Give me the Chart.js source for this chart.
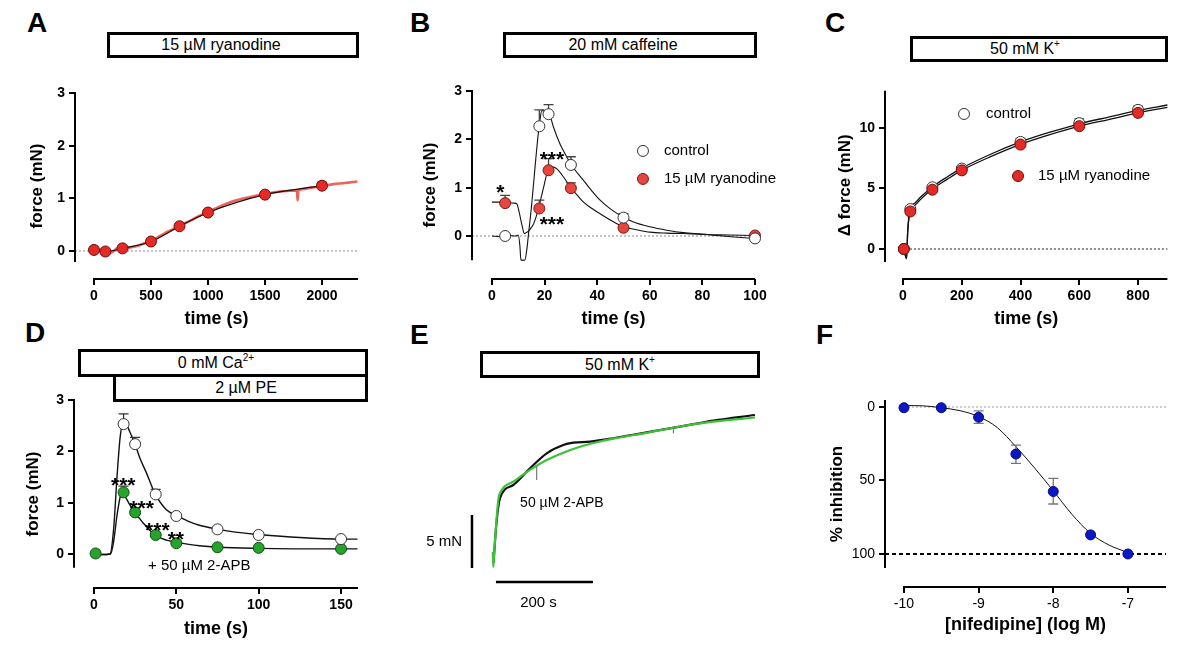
<!doctype html>
<html>
<head>
  <title>Ryanodine, caffeine, 2-APB and nifedipine</title>
  <script src="https://cdn.jsdelivr.net/npm/chart.js@4.4.1/dist/chart.umd.min.js"></script>
  <style>
    body { margin: 0; background: #fff; }
    #fig { position: relative; width: 1200px; height: 651px; overflow: hidden; font-family: "Liberation Sans", Arial, sans-serif; color: #000; }
    #fig canvas { position: absolute; }
    .tag { position: absolute; font-size: 28px; font-weight: bold; line-height: 28px; }
    .bar { position: absolute; box-sizing: border-box; border: 3px solid #000; display: flex; align-items: center; justify-content: center; font-size: 16px; white-space: nowrap; }
    .bar sup { font-size: 10px; line-height: 0; vertical-align: 7px; }
  </style>
</head>
<body>
<div id="fig">
  <div class="tag" style="left:27px;top:9px">A</div>
  <div class="tag" style="left:410px;top:9px">B</div>
  <div class="tag" style="left:825px;top:9px">C</div>
  <div class="tag" style="left:25px;top:319px">D</div>
  <div class="tag" style="left:410px;top:321px">E</div>
  <div class="tag" style="left:816px;top:321px">F</div>

  <div class="bar" style="left:107px;top:32px;width:252px;height:26px;padding-right:24px"><span>15 µM ryanodine</span></div>
  <div class="bar" style="left:503px;top:32px;width:254px;height:26px;padding-right:14px"><span>20 mM caffeine</span></div>
  <div class="bar" style="left:910px;top:36px;width:258px;height:26px;padding-right:28px"><span>50 mM K<sup>+</sup></span></div>
  <div class="bar" style="left:78px;top:349px;width:290px;height:28px;padding-right:14px"><span>0 mM Ca<sup>2+</sup></span></div>
  <div class="bar" style="left:113px;top:374px;width:255px;height:28px;padding-left:11px"><span>2 µM PE</span></div>
  <div class="bar" style="left:480px;top:351px;width:280px;height:27px"><span>50 mM K<sup>+</sup></span></div>

  <canvas id="chartA"></canvas>
  <canvas id="chartB"></canvas>
  <canvas id="chartC"></canvas>
  <canvas id="chartD"></canvas>
  <canvas id="chartE"></canvas>
  <canvas id="chartF"></canvas>
</div>

<script>
  var FONT = '"Liberation Sans", Arial, sans-serif';
  Chart.defaults.font.family = FONT;
  Chart.defaults.color = '#000';

  // ---- A: 15 uM ryanodine alone
  var aTime = [0, 100, 250, 500, 750, 1000, 1500, 2000];
  var aForce = [0.02, -0.01, 0.05, 0.18, 0.47, 0.73, 1.07, 1.24];
  var aErr = [null, null, null, null, null, null, 1.11, 1.3];
  var aTraceTime = [0, 60, 100, 150, 200, 250, 300, 350, 400, 450, 500, 550, 600, 650, 700, 750, 800, 850, 900, 950, 1000, 1100, 1200, 1300, 1400, 1500, 1600, 1700, 1780, 1786, 1792, 1850, 1900, 2000, 2100, 2200, 2310];
  var aTraceForce = [0.03, 0, -0.01, -0.03, 0.05, 0.07, 0.06, 0.08, 0.11, 0.15, 0.19, 0.25, 0.31, 0.37, 0.42, 0.48, 0.53, 0.58, 0.64, 0.69, 0.74, 0.84, 0.93, 0.99, 1.04, 1.08, 1.12, 1.14, 1.15, 0.96, 1.15, 1.18, 1.2, 1.23, 1.27, 1.29, 1.32];
  var aXTicks = [0, 500, 1000, 1500, 2000];
  var aYTicks = [0, 1, 2, 3];

  // ---- B: 20 mM caffeine, control vs ryanodine
  var bTime = [5, 18, 21.5, 30, 50, 100];
  var bCtrl = [0, 2.27, 2.52, 1.47, 0.38, -0.05];
  var bCtrlErr = [null, 2.61, 2.72, 1.64, 0.46, null];
  var bRya = [0.68, 0.57, 1.36, 0.99, 0.17, 0.01];
  var bRyaErr = [0.84, 0.74, 1.6, 1.1, null, null];
  var bCtrlTraceTime = [0, 3, 6, 9, 10, 10.6, 11, 12.5, 13.2, 14, 15, 16, 17, 18, 19, 20, 21, 22, 23.4, 25.9, 28, 30.1, 32.5, 34.8, 38, 41.1, 45, 48.7, 53.8, 60.1, 66.5, 72.8, 80, 85.4, 92, 100];
  var bCtrlTrace = [0, -0.01, 0.01, 0, 0.02, -0.2, -0.5, -0.5, -0.3, 0.1, 0.6, 1.2, 1.8, 2.3, 2.6, 2.58, 2.55, 2.5, 2.25, 1.9, 1.68, 1.48, 1.3, 1.15, 0.93, 0.74, 0.56, 0.43, 0.29, 0.19, 0.12, 0.07, 0.04, 0.01, -0.02, -0.05];
  var bRyaTraceTime = [0, 3, 6, 8.5, 9.5, 10.5, 11.5, 12.3, 13, 13.9, 15, 15.8, 16.8, 17.7, 18.7, 19.6, 20.9, 22, 22.8, 24.7, 27.2, 30.1, 32.5, 34.8, 38, 41.1, 45, 50, 55, 60.1, 66.5, 72.8, 80, 90, 100];
  var bRyaTrace = [0.7, 0.7, 0.69, 0.68, 0.66, 0.45, 0.2, 0.05, 0.07, 0.1, 0.18, 0.25, 0.4, 0.57, 0.8, 1.0, 1.29, 1.4, 1.43, 1.39, 1.22, 0.99, 0.84, 0.7, 0.57, 0.46, 0.33, 0.19, 0.13, 0.08, 0.06, 0.05, 0.03, 0.02, 0.01];
  var bXTicks = [0, 20, 40, 60, 80, 100];
  var bYTicks = [0, 1, 2, 3];

  // ---- C: 50 mM K+, control vs ryanodine
  var cTime = [3, 25, 100, 200, 400, 600, 800];
  var cCtrl = [0, 3.3, 5.1, 6.65, 8.85, 10.4, 11.5];
  var cCtrlErr = [null, 3.45, 5.25, 6.8, 9.15, 10.75, 11.8];
  var cRya = [0, 3.1, 4.9, 6.5, 8.63, 10.15, 11.25];
  var cTraceTime = [3, 12, 16, 25, 40, 60, 100, 150, 200, 300, 400, 500, 600, 700, 800, 900];
  var cCtrlTrace = [0, -0.8, 1.5, 3.35, 3.78, 4.3, 5.13, 5.95, 6.68, 7.85, 8.85, 9.65, 10.35, 10.9, 11.45, 11.9];
  var cRyaTrace = [0, -0.8, 1.4, 3.2, 3.6, 4.1, 4.95, 5.75, 6.5, 7.65, 8.65, 9.45, 10.15, 10.7, 11.25, 11.7];
  var cXTicks = [0, 200, 400, 600, 800];
  var cYTicks = [0, 5, 10];

  // ---- D: 0 Ca2+, PE, +/- 2-APB
  var dCtrlTime = [18, 25, 37.5, 50, 75, 100, 150];
  var dCtrl = [2.53, 2.14, 1.16, 0.74, 0.48, 0.37, 0.29];
  var dCtrlErr = [2.73, 2.27, 1.26, null, null, null, null];
  var dApbTime = [1, 18, 25, 37.5, 50, 75, 100, 150];
  var dApb = [0.01, 1.2, 0.81, 0.37, 0.21, 0.13, 0.12, 0.1];
  var dApbErr = [null, 1.32, 0.9, null, null, null, null, null];
  var dCtrlTraceTime = [0, 5, 9.7, 12, 14, 16, 17.8, 19.5, 21.5, 24.9, 28, 32, 37, 44, 50, 57, 64, 75.6, 84.7, 100, 125, 150, 160];
  var dCtrlTrace = [0, -0.01, 0, 0.5, 1.5, 2.3, 2.56, 2.54, 2.4, 2.14, 1.86, 1.57, 1.18, 0.86, 0.75, 0.64, 0.56, 0.48, 0.43, 0.38, 0.32, 0.29, 0.29];
  var dApbTraceTime = [0, 5, 10.1, 12, 14, 16, 17.4, 19, 21.9, 24.9, 30, 37, 44, 50, 64, 75.6, 100, 150, 160];
  var dApbTrace = [0, -0.01, 0, 0.25, 0.75, 1.12, 1.21, 1.12, 0.95, 0.81, 0.6, 0.37, 0.27, 0.23, 0.16, 0.13, 0.11, 0.1, 0.1];
  var dXTicks = [0, 50, 100, 150];
  var dYTicks = [0, 1, 2, 3];

  // ---- E: raw K+ traces (s, mN), control black and 2-APB green
  var eBlackTime = [-1, 5, 12.4, 39.8, 74.2, 108.7, 142.9, 163.5, 197.9, 246, 314.8, 383.5, 452.2, 538];
  var eBlack = [0.5, 4.2, 6.58, 7.83, 9.41, 10.82, 11.6, 11.82, 11.92, 12.24, 12.8, 13.33, 13.9, 14.43];
  var eGreenTime = [-2.5, -1.4, 0.5, 8.9, 15.9, 39.8, 74.2, 108.7, 142.9, 177.3, 211.8, 246, 314.8, 383.5, 452.2, 538];
  var eGreen = [1.5, 0.1, 1.5, 6.42, 7.36, 8.14, 9.25, 10.19, 10.88, 11.44, 11.86, 12.2, 12.75, 13.35, 13.8, 14.2];
  var eMarkTime = [88, 370];     // small event ticks on the traces
  var eMarkLow = [8.3, 12.7];
  var eMarkHigh = [9.6, 13.3];
  var eBarForce = [0, 5];     // 5 mN scale bar
  var eBarTime = [4, 204];    // 200 s scale bar

  // ---- F: nifedipine concentration-response
  var fDose = [-10, -9.5, -9, -8.5, -8, -7.5, -7];
  var fInhib = [0.5, 0.5, 7, 32, 57.5, 87, 100];
  var fErrLo = [null, null, 2.7, 26, 48.5, null, null];
  var fErrHi = [null, null, 11.1, 38.3, 66, null, null];
  var fFitDose = [-10, -9.75, -9.5, -9.25, -9, -8.75, -8.5, -8.25, -8, -7.75, -7.5, -7.25, -7];
  var fFitInhib = [-1, -0.8, 0.5, 2.5, 6.5, 14, 27, 41.5, 57, 73, 86, 94, 99];
  var fXTicks = [-10, -9, -8, -7];
  var fYTicks = [0, 50, 100];

  // ---------- plugins
  var axisLines = {
    id: 'axisLines',
    afterDraw: function (chart, args, o) {
      var ctx = chart.ctx, area = chart.chartArea, x = chart.scales.x, y = chart.scales.y;
      ctx.save();
      ctx.strokeStyle = '#000';
      ctx.lineWidth = 2;
      if (o.y) {
        ctx.beginPath();
        ctx.moveTo(area.left, y.getPixelForValue(o.y[0]) - 1);
        ctx.lineTo(area.left, y.getPixelForValue(o.y[1]));
        ctx.stroke();
      }
      if (o.x) {
        ctx.beginPath();
        ctx.moveTo(x.getPixelForValue(o.x[0]) - 1, area.bottom);
        ctx.lineTo(x.getPixelForValue(o.x[1]), area.bottom);
        ctx.stroke();
      }
      ctx.restore();
    }
  };

  var errorBars = {
    id: 'errorBars',
    beforeDatasetDraw: function (chart, args) {
      var ds = chart.data.datasets[args.index];
      if (!ds.errHi && !ds.errLo) return;
      var ctx = chart.ctx, x = chart.scales.x, y = chart.scales.y;
      ctx.save();
      ctx.strokeStyle = ds.errColor || '#222';
      ctx.lineWidth = 1.3;
      ds.data.forEach(function (p, i) {
        var px = x.getPixelForValue(p.x), py = y.getPixelForValue(p.y);
        [ds.errHi, ds.errLo].forEach(function (arr) {
          if (!arr || arr[i] == null) return;
          var ey = y.getPixelForValue(arr[i]);
          ctx.beginPath();
          ctx.moveTo(px, py); ctx.lineTo(px, ey);
          ctx.moveTo(px - 5, ey); ctx.lineTo(px + 5, ey);
          ctx.stroke();
        });
      });
      ctx.restore();
    }
  };

  var notes = {
    id: 'notes',
    afterDatasetsDraw: function (chart, args, o) {
      var ctx = chart.ctx, x = chart.scales.x, y = chart.scales.y;
      (o.items || []).forEach(function (n) {
        var px = x.getPixelForValue(n.x), py = y.getPixelForValue(n.y);
        ctx.save();
        if (n.marker) {
          ctx.beginPath();
          ctx.arc(px, py, 5.5, 0, Math.PI * 2);
          ctx.fillStyle = n.marker; ctx.fill();
          ctx.lineWidth = 1; ctx.strokeStyle = n.edge || '#222'; ctx.stroke();
        } else {
          ctx.font = (n.weight || 'normal') + ' ' + (n.size || 15) + 'px ' + FONT;
          ctx.fillStyle = '#000';
          ctx.textAlign = n.align || 'center';
          ctx.textBaseline = n.star ? 'alphabetic' : 'middle';
          ctx.fillText(n.text, px, py + (n.star ? (n.size || 15) * 0.58 : 0));
        }
        ctx.restore();
      });
    }
  };

  Chart.register(axisLines, errorBars, notes);

  // ---------- helpers
  function zip(xs, ys) { return xs.map(function (v, i) { return { x: v, y: ys[i] }; }); }

  function points(xs, ys, fill, edge, errHi, errLo, errColor, r) {
    return { data: zip(xs, ys), showLine: false, pointRadius: r || 5.5, pointBackgroundColor: fill,
      pointBorderColor: edge, pointBorderWidth: 1, clip: false, errHi: errHi, errLo: errLo, errColor: errColor };
  }
  function trace(xs, ys, color, width) {
    return { data: zip(xs, ys), showLine: true, pointRadius: 0, borderColor: color, borderWidth: width || 1.2,
      cubicInterpolationMode: 'monotone', clip: false };
  }
  function refLine(xs, ys, color, dash, width) {
    return { data: zip(xs, ys), showLine: true, pointRadius: 0, borderColor: color, borderWidth: width || 1,
      borderDash: dash, clip: false };
  }

  function xAxis(min, max, ticks, title, xH, bold) {
    return {
      type: 'linear', position: 'bottom', min: min, max: max,
      afterBuildTicks: function (s) { s.ticks = ticks.map(function (v) { return { value: v }; }); },
      afterFit: function (s) { s.height = xH; },
      ticks: { autoSkip: false, maxRotation: 0, padding: 3, color: '#000',
        font: { size: 14, weight: bold ? 'bold' : 'normal' }, callback: function (v) { return String(v); } },
      grid: { drawOnChartArea: false, tickLength: 6, lineWidth: 2, color: '#000' },
      border: { display: false },
      title: { display: true, text: title, color: '#000', padding: 0, font: { size: 18, weight: 'bold' } }
    };
  }
  function yAxis(min, max, ticks, title, yW, bold, reverse) {
    return {
      type: 'linear', position: 'left', min: min, max: max, reverse: !!reverse,
      afterBuildTicks: function (s) { s.ticks = ticks.map(function (v) { return { value: v }; }); },
      afterFit: function (s) { s.width = yW; },
      ticks: { autoSkip: false, padding: 4, color: '#000',
        font: { size: 14, weight: bold ? 'bold' : 'normal' }, callback: function (v) { return String(v); } },
      grid: { drawOnChartArea: false, tickLength: 6, lineWidth: 2, color: '#000' },
      border: { display: false },
      title: { display: true, text: title, color: '#000', padding: 0, font: { size: 17, weight: 'bold' } }
    };
  }

  // box = [left, top, width, height] of the canvas, area = [left, top, right, bottom] of the plot
  function makeChart(id, box, area, yW, xH, scales, datasets, lines, items) {
    var cv = document.getElementById(id);
    cv.width = box[2]; cv.height = box[3];
    cv.style.left = box[0] + 'px'; cv.style.top = box[1] + 'px';
    var padding = { left: area[0] - box[0] - yW, top: area[1] - box[1],
      right: box[0] + box[2] - area[2], bottom: box[1] + box[3] - area[3] - xH };
    return new Chart(cv, {
      type: 'scatter',
      data: { datasets: datasets },
      options: {
        responsive: false, animation: false, events: [],
        layout: { padding: padding },
        plugins: { legend: { display: false }, tooltip: { enabled: false },
          axisLines: lines || {}, notes: { items: items || [] } },
        scales: scales
      }
    });
  }

  var RED = '#e32a26', RED_EDGE = '#6e0c0a';
  var BRED = '#e5463e', BRED_EDGE = '#7c1612';
  var GREEN = '#25a32b', GREEN_EDGE = '#0c4f10';
  var BLUE = '#0b18c8', BLUE_EDGE = '#050c6a';
  var WHITE_EDGE = '#333';

  // A
  makeChart('chartA', [0, 70, 400, 270], [75, 93, 358, 279], 48, 51, {
    x: xAxis(-166.7, 2315.8, aXTicks, 'time (s)', 51, true),
    y: yAxis(-0.532, 3, aYTicks, 'force (mN)', 48, true)
  }, [
    points(aTime, aForce, RED, RED_EDGE, aErr, null, '#222'),
    trace(aTime, aForce, '#1a0a0a', 1.2),
    trace(aTraceTime, aTraceForce, 'rgba(232,72,62,0.85)', 2.6),
    refLine([-166.7, 2315.8], [0, 0], '#8a8a8a', [2, 2], 1)
  ], { x: [0, 2315.8], y: [3, -0.21] });

  // B
  makeChart('chartB', [400, 70, 390, 270], [472, 91, 755, 279], 52, 51, {
    x: xAxis(-7.6, 100, bXTicks, 'time (s)', 51, true),
    y: yAxis(-0.89, 3, bYTicks, 'force (mN)', 52, true)
  }, [
    points(bTime, bCtrl, '#fff', WHITE_EDGE, bCtrlErr, null, '#444'),
    points(bTime, bRya, BRED, BRED_EDGE, bRyaErr, null, '#444'),
    trace(bCtrlTraceTime, bCtrlTrace, '#111', 1.1),
    trace(bRyaTraceTime, bRyaTrace, '#111', 1.1),
    refLine([-7.6, 100], [0, 0], '#8a8a8a', [2, 2], 1)
  ], { x: [0, 100], y: [3, -0.5] }, [
    { x: 57.4, y: 1.76, marker: '#fff', edge: WHITE_EDGE },
    { x: 65.4, y: 1.76, text: 'control', align: 'left', size: 15 },
    { x: 57.4, y: 1.18, marker: BRED, edge: BRED_EDGE },
    { x: 65.4, y: 1.18, text: '15 µM ryanodine', align: 'left', size: 15 },
    { x: 3.2, y: 1.01, text: '*', star: true, size: 21, weight: 'bold' },
    { x: 22.8, y: 1.7, text: '***', star: true, size: 21, weight: 'bold' },
    { x: 22.8, y: 0.36, text: '***', star: true, size: 21, weight: 'bold' }
  ]);

  // C
  makeChart('chartC', [800, 70, 400, 270], [885, 91.7, 1167.4, 279], 50, 51, {
    x: xAxis(-61.3, 900, cXTicks, 'time (s)', 51, true),
    y: yAxis(-2.48, 13, cYTicks, 'Δ force (mN)', 50, true)
  }, [
    points(cTime, cRya, RED, RED_EDGE),
    points(cTime, cCtrl, '#fff', WHITE_EDGE, cCtrlErr, null, '#555'),
    trace(cTraceTime, cCtrlTrace, '#111', 1.3),
    trace(cTraceTime, cRyaTrace, '#111', 1.3),
    refLine([10, 900], [0, 0], '#222', [2, 2], 1)
  ], { x: [0, 900], y: [13, -1.07] }, [
    { x: 207.7, y: 11.16, marker: '#fff', edge: WHITE_EDGE },
    { x: 282.6, y: 11.16, text: 'control', align: 'left', size: 15 },
    { x: 391.5, y: 6.03, marker: RED, edge: RED_EDGE },
    { x: 459.6, y: 6.03, text: '15 µM ryanodine', align: 'left', size: 15 }
  ]);

  // D
  makeChart('chartD', [0, 385, 400, 266], [74, 400, 358, 588], 51, 52, {
    x: xAxis(-12.1, 160.3, dXTicks, 'time (s)', 52, true),
    y: yAxis(-0.663, 3, dYTicks, 'force (mN)', 51, true)
  }, [
    points(dCtrlTime, dCtrl, '#fff', WHITE_EDGE, dCtrlErr, null, '#333'),
    points(dApbTime, dApb, GREEN, GREEN_EDGE, dApbErr, null, '#333'),
    trace(dCtrlTraceTime, dCtrlTrace, '#111', 1.4),
    trace(dApbTraceTime, dApbTrace, '#111', 1.4)
  ], { x: [0, 160.3], y: [3, -0.27] }, [
    { x: 17.8, y: 1.44, text: '***', star: true, size: 21, weight: 'bold' },
    { x: 29, y: 0.99, text: '***', star: true, size: 21, weight: 'bold' },
    { x: 38.5, y: 0.56, text: '***', star: true, size: 21, weight: 'bold' },
    { x: 49.7, y: 0.4, text: '**', star: true, size: 21, weight: 'bold' },
    { x: 63.9, y: -0.23, text: '+ 50 µM 2-APB', size: 15 }
  ]);

  // E (no axes; scale bars instead)
  makeChart('chartE', [410, 395, 360, 230], [410, 395, 770, 625], 0, 0, {
    x: { type: 'linear', display: false, min: -173.2, max: 569.1 },
    y: { type: 'linear', display: false, min: -5.38, max: 16.32 }
  }, [
    refLine([eMarkTime[0], eMarkTime[0]], [eMarkLow[0], eMarkHigh[0]], '#777', [], 1.2),
    refLine([eMarkTime[1], eMarkTime[1]], [eMarkLow[1], eMarkHigh[1]], '#777', [], 1.2),
    trace(eGreenTime, eGreen, '#3cc23a', 2.2),
    trace(eBlackTime, eBlack, '#111', 2.2),
    refLine([-45.4, -45.4], eBarForce, '#000', [], 2.5),
    refLine(eBarTime, [-1.32, -1.32], '#000', [], 2.5)
  ], {}, [
    { x: 140, y: 6.1, text: '50 µM 2-APB', size: 14 },
    { x: -66, y: 2.45, text: '5 mN', align: 'right', size: 15 },
    { x: 91.8, y: -3.3, text: '200 s', size: 15 }
  ]);

  // F
  makeChart('chartF', [800, 385, 400, 266], [885, 401, 1166, 587], 58, 49, {
    x: xAxis(-10.254, -6.49, fXTicks, '[nifedipine] (log M)', 49, false),
    y: yAxis(-4.08, 122.45, fYTicks, '% inhibition', 58, false, true)
  }, [
    points(fDose, fInhib, BLUE, BLUE_EDGE, fErrHi, fErrLo, '#777', 5),
    trace(fFitDose, fFitInhib, '#111', 1),
    refLine([-10, -6.49], [0, 0], '#999', [2, 2], 1),
    refLine([-10.254, -6.49], [100, 100], '#000', [4, 3], 1.8)
  ], { x: [-10, -6.49], y: [-4.08, 109.5] });
</script>
</body>
</html>
